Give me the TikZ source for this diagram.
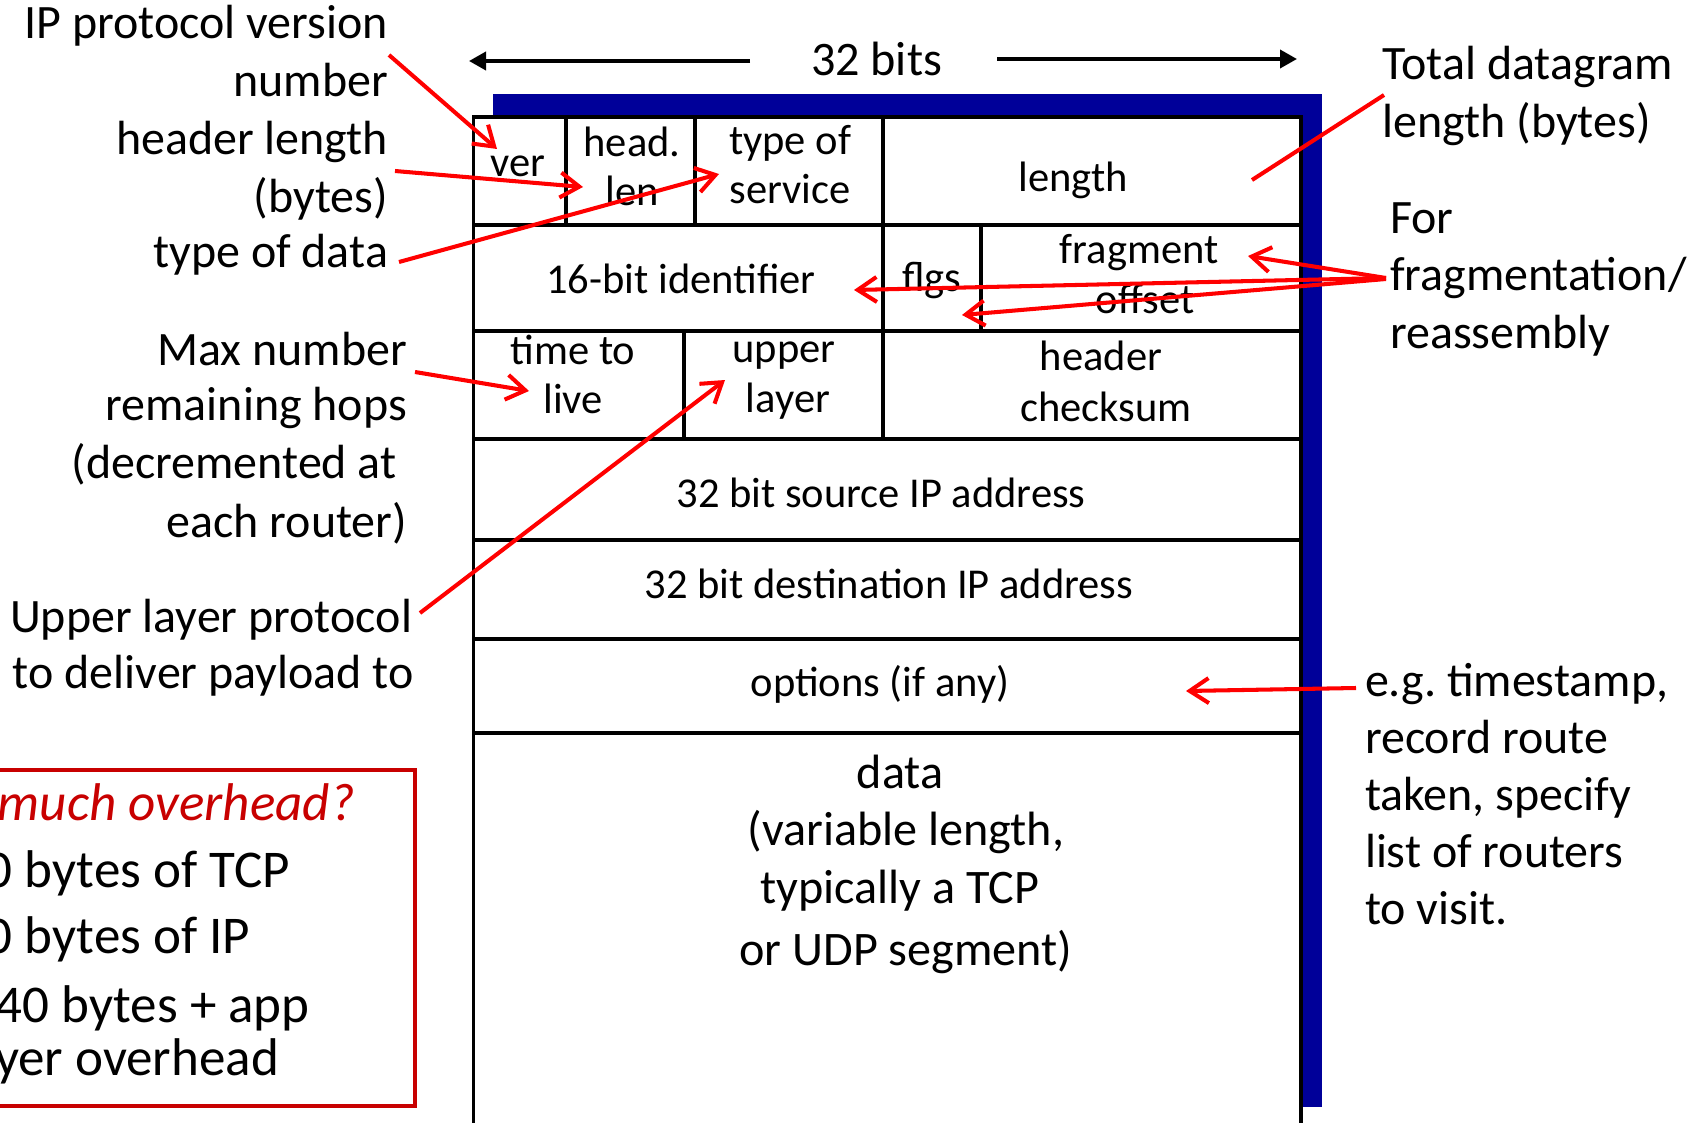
\documentclass[tikz,border=0pt]{standalone}
\usepackage{fontspec}
\setmainfont{Carlito}
\usetikzlibrary{arrows.meta,calc}
\definecolor{shadowblue}{RGB}{0,0,153}
\definecolor{notered}{RGB}{200,0,0}
\definecolor{pointer}{RGB}{255,0,0}
\begin{document}
\begin{tikzpicture}[x=0.1mm,y=-0.1mm,
  every node/.style={inner sep=0pt,outer sep=0pt},
  lbl/.style={font=\fontsize{13.65pt}{16pt}\selectfont},
  lblr/.style={lbl,anchor=base east},
  lbll/.style={lbl,anchor=base west},
  fld/.style={font=\fontsize{12.1pt}{14pt}\selectfont,anchor=base},
  datatxt/.style={font=\fontsize{13.7pt}{16pt}\selectfont,anchor=base},
  note/.style={font=\fontsize{15.1pt}{18pt}\selectfont,anchor=base west},
  rule/.style={line width=1.05pt},
  callout/.style={draw=pointer,line width=1.15pt,-{Straight Barb[length=1.9mm,width=2.5mm]}},
  leader/.style={draw=pointer,line width=1.15pt},
  widtharrow/.style={draw=black,line width=1.05pt,-{Triangle[length=1.7mm,width=1.8mm]}},
]
\useasboundingbox (0,0) rectangle (1699,1122);
\clip (0,0) rectangle (1699,1122);
\fill[white] (0,0) rectangle (1699,1122);

% blue drop shadow behind the header table
\fill[shadowblue] (493,94) rectangle (1322,1107);

% header table: outline and row separators
\filldraw[fill=white,rule] (473.5,117) rectangle (1301,1160);
\foreach \y in {225,331,439,540,639,733}
  \draw[rule] (473.5,\y) -- (1301,\y);
% field separators, row 1
\draw[rule] (566,117) -- (566,225);
\draw[rule] (695,117) -- (695,225);
\draw[rule] (883,117) -- (883,225);
% row 2
\draw[rule] (883,225) -- (883,331);
\draw[rule] (981,225) -- (981,331);
% row 3
\draw[rule] (684,331) -- (684,439);
\draw[rule] (883,331) -- (883,439);

% width marker
\node[datatxt] (bits) at (876.5,76) {32 bits};
\coordinate (wL) at (469,61);
\coordinate (wR) at (1297,59);
\draw[widtharrow] ($(bits.base)+(-126.5,-15)$) -- (wL);
\draw[widtharrow] ($(bits.base)+(120.5,-17)$) -- (wR);

% field names
\node[fld] (f-ver) at (518,177) {ver};
\node[fld] (f-hl1) at (632,156) {head.};
\node[fld] (f-hl2) at (632,205) {len};
\node[fld] (f-tos1) at (790,154) {type of};
\node[fld] (f-tos2) at (790,203) {service};
\node[fld] (f-len) at (1073,192) {length};
\node[fld] (f-id) at (681,293) {16-bit identifier};
\node[fld] (f-flg) at (932,291) {flgs};
\node[fld] (f-fo1) at (1139,263) {fragment};
\node[fld] (f-fo2) at (1145,313) {offset};
\node[fld] (f-ttl1) at (573,364) {time to};
\node[fld] (f-ttl2) at (573,413) {live};
\node[fld] (f-ul1) at (784,362) {upper};
\node[fld] (f-ul2) at (788,412) {layer};
\node[fld] (f-cs1) at (1101,370) {header};
\node[fld] (f-cs2) at (1106,421) {checksum};
\node[fld] (f-src) at (881,507) {32 bit source IP address};
\node[fld] (f-dst) at (889,598) {32 bit destination IP address};
\node[fld] (f-opt) at (880,696) {options (if any)};
\node[datatxt] (f-d1) at (900,788) {data};
\node[datatxt] (f-d2) at (906,845) {(variable length,};
\node[datatxt] (f-d3) at (900,903) {typically a TCP};
\node[datatxt] (f-d4) at (906,965) {or UDP segment)};

% annotations, left side
\node[lblr] (lv1) at (388,39) {IP protocol version};
\node[lblr] (lv2) at (388,97) {number};
\node[lblr] (lh1) at (388,155) {header length};
\node[lblr] (lh2) at (388,212) {(bytes)};
\node[lblr] (lt1) at (388,268) {type of data};
\node[lblr] (lm1) at (407,365) {Max number};
\node[lblr] (lm2) at (407,420) {remaining hops};
\node[lblr] (lm3) at (396.5,478) {(decremented at};
\node[lblr] (lm4) at (407,537) {each router)};
\node[lblr] (lu1) at (412,632) {Upper layer protocol};
\node[lbll] (lu2) at (13,688) {to deliver payload to};

% annotations, right side
\node[lbll] (rt1) at (1382.5,80) {Total datagram};
\node[lbll] (rt2) at (1382.5,137) {length (bytes)};
\node[lbll] (rf1) at (1390,233) {For};
\node[lbll] (rf2) at (1390,290) {fragmentation/};
\node[lbll] (rf3) at (1390,348) {reassembly};
\node[lbll] (ro1) at (1365,696) {e.g.\ timestamp,};
\node[lbll] (ro2) at (1365,753) {record route};
\node[lbll] (ro3) at (1365,810) {taken, specify};
\node[lbll] (ro4) at (1365,867) {list of routers};
\node[lbll] (ro5) at (1365,924) {to visit.};

% overhead box
\draw[notered,line width=0.4mm] (-20,770) rectangle (415,1106);
\node[note,text=notered,font=\fontsize{15.1pt}{18pt}\selectfont\itshape] (ov0) at (-2,820) {much overhead?};
\node[note] (ov1) at (-14,887) {0 bytes of TCP};
\node[note] (ov2) at (-14,953) {0 bytes of IP};
\node[note] (ov3) at (-4,1022) {40 bytes + app};
\node[note] (ov4) at (-5,1075) {yer overhead};

% pointers from annotations to fields
\draw[callout] ($(lv1.base east)+(1,16)$) -- ($(f-ver.base)+(-21,-28)$);
\draw[callout] ($(lh1.base east)+(7,16)$) -- ($(f-hl2.base)+(-49,-18)$);
\draw[callout] ($(lt1.base east)+(11,-6)$) -- ($(f-tos2.base)+(-71,-29)$);
\draw[leader] ($(rt1.base west)+(1.5,15)$) -- ($(f-len.base)+(179,-12)$);
\draw[callout] ($(rf2.base west)+(-4,-12)$) -- ($(f-fo1.base)+(109,-7)$);
\draw[callout] ($(rf2.base west)+(-4,-12)$) -- ($(f-id.base)+(173,-3)$);
\draw[callout] ($(rf2.base west)+(-4,-11)$) -- ($(f-flg.base)+(30,24)$);
\draw[callout] ($(lm1.base east)+(8,7)$) -- ($(f-ttl2.base)+(-44,-22)$);
\draw[callout] ($(lu1.base east)+(8,-19)$) -- ($(f-ul1.base)+(-59,18)$);
\draw[callout] ($(ro1.base west)+(-9,-8)$) -- ($(f-opt.base)+(306,-5)$);
\end{tikzpicture}
\end{document}
